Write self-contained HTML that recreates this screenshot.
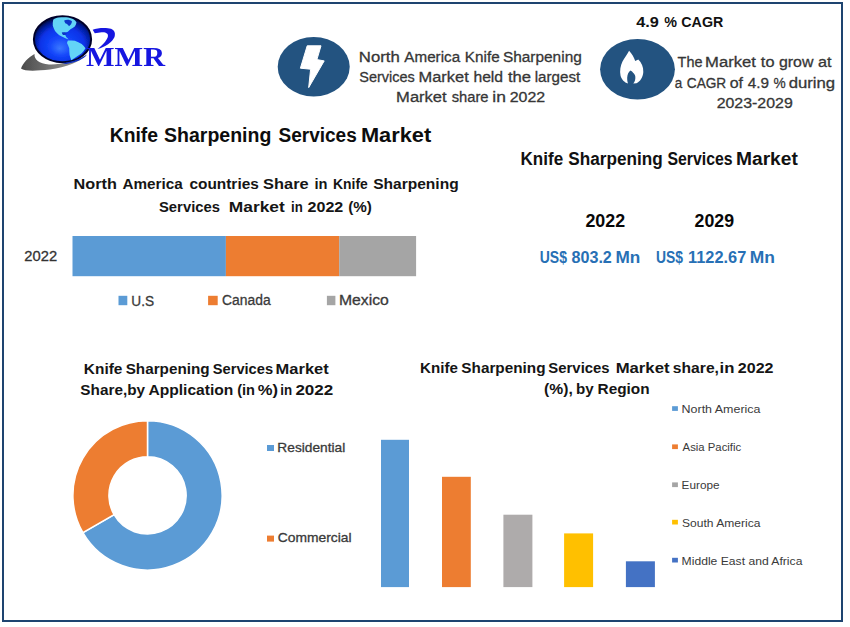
<!DOCTYPE html>
<html><head><meta charset="utf-8">
<style>
html,body{margin:0;padding:0;background:#fff;}
body{width:850px;height:627px;overflow:hidden;}
svg{display:block;}
text{font-family:"Liberation Sans",sans-serif;}
.b{font-weight:bold;}
</style></head><body>
<svg width="850" height="627" viewBox="0 0 850 627">
<defs>
<radialGradient id="gl" cx="0.52" cy="0.58" r="0.58" fx="0.45" fy="0.7">
<stop offset="0" stop-color="#3a78ff"/>
<stop offset="0.35" stop-color="#1446fa"/>
<stop offset="0.66" stop-color="#0833e8"/>
<stop offset="0.84" stop-color="#051c9c"/>
<stop offset="1" stop-color="#010630"/>
</radialGradient>
<linearGradient id="sw" x1="0" y1="0" x2="1" y2="0">
<stop offset="0" stop-color="#4a4a4a"/>
<stop offset="0.5" stop-color="#7a7a7a"/>
<stop offset="1" stop-color="#9a9a9a"/>
</linearGradient>
<filter id="soft" x="-10%" y="-10%" width="120%" height="120%"><feGaussianBlur stdDeviation="0.35"/></filter>
</defs>
<rect x="0" y="0" width="850" height="627" fill="#fff"/>
<!-- frame -->
<rect x="3" y="3" width="839" height="618" fill="none" stroke="#1e4470" stroke-width="2"/>

<!-- logo -->
<g filter="url(#soft)">
<path d="M21,68.5 C23,63 28,57.5 34.5,54 C34,59.5 39,63.5 49,64.5 C61,65 76,61 87,54.5 C80,62 66,67.5 50,69.5 C36,71 25,71.5 21,68.5 Z" fill="url(#sw)"/>
<ellipse cx="62.5" cy="39.3" rx="28.6" ry="23" fill="url(#gl)" stroke="#01062a" stroke-width="2"/>
<path d="M53.2,19.7 C55,18.5 56.5,17.9 58.4,17.6 C61,17.2 63.5,17.1 66.2,17.2 C69,17.6 71.2,18.2 73,18.9 C74.5,19.9 75.8,21 76.5,22.3 C76.3,24 75.7,25.4 74.8,26.6 C73.5,27.6 72,28.4 70.5,29.2 C69.5,30 68.7,30.9 67.9,31.8 C66.8,32.2 65.6,32.4 64.4,32.7 C64.8,34 65.5,35.6 66.2,37 C67,37.9 67.9,38.8 68.7,39.6 C67.2,39 65.8,38.4 64.4,37.8 C62.7,37 61,36.1 59.3,35.2 C57.8,33.8 56.3,32.4 55,30.9 C54.1,29.2 53.3,27.5 52.8,25.8 C52.6,23.7 52.8,21.6 53.2,19.7 Z" fill="#64d4f7"/>
<path d="M67.9,40.4 C70.2,40.4 72.5,40.5 74.8,40.8 C77.2,41.7 79.5,42.7 81.7,43.9 C83.2,45.3 84.4,46.7 85.5,48.2 C84.3,50 83,51.7 81.7,53.3 C80,54.5 78.3,55.7 76.5,56.8 C74.8,58 73,59.1 71.3,60.2 C70.6,58.5 70.1,56.7 69.6,55 C69.4,52.7 69.3,50.5 69.2,48.2 C68.6,46.5 67.8,44.7 67,43 C67.2,42.1 67.5,41.2 67.9,40.4 Z" fill="#64d4f7"/>
<path d="M64.2,20.6 C66.5,19.4 70,19.6 72,21.4 C71.8,23.2 70.6,25 69,26.2 C68.2,24.8 67,23.6 65.6,23.4 C64.8,22.6 64.3,21.6 64.2,20.6 Z M61.8,32.6 C63.5,32 65.8,32.2 66.6,33.4 C66.2,34.6 64.6,35.3 63,35 C62.3,34.3 61.9,33.5 61.8,32.6 Z" fill="#0d34c8"/>
<path d="M62,63 C72,62.5 80,59 87,54.5 C84,59 76,62.5 66,64 Z" fill="#0c2fc8"/>
<path d="M92.7,29.8 C97,28 106,27.5 111,28.8 C115,30.2 115.5,34 114.5,37 C112.5,42 105,47 97.5,49.1 C102,45.5 106.5,41 107.8,37 C108.8,33.5 106,32 102,32.2 C99,32.4 97,32.8 94.8,33.2 Z" fill="#1414e0"/>
<text x="86" y="66" font-weight="bold" font-size="26.7" fill="#1414e0" textLength="79" lengthAdjust="spacingAndGlyphs" style="font-family:'Liberation Serif',serif">MMR</text>

</g>
<!-- lightning -->
<ellipse cx="313.7" cy="66.8" rx="36" ry="29.7" fill="#235380"/>
<path d="M307.2,45.8 L321,45.8 L316.9,59.6 L324.2,60.9 L308.7,87.6 L310.6,69.2 L300.4,68.2 Z" fill="#fff" stroke="#fff" stroke-width="1" stroke-linejoin="round"/>

<!-- flame -->
<ellipse cx="637.5" cy="69.3" rx="37.4" ry="30.3" fill="#235380"/>
<path d="M629.1,50.7 C632,54 634.2,57.5 635.2,61 C636.2,60.5 637.3,60 638.3,59.5 C641.5,62.5 643.5,67 643.3,72 C643,77.5 640,81.5 636.5,83.3 L633.3,83.5 C635,81.5 635.6,79 635.3,76.5 C635.1,75.2 634.9,74.6 634.5,74.4 C634.2,73.6 633.6,73.2 633.3,72.9 C632.6,71.9 631.6,71.1 630.5,70.6 C628.5,72 627.5,74.5 627.2,77.5 C627.1,80 627.5,82 628,83.5 C624.5,82.5 621.5,79.5 620.5,75.5 C619.5,71 620.5,65.5 622.5,61.5 C624.5,57.5 627.5,54 629.1,50.7 Z" fill="#fff"/>



<!-- stacked bar -->
<rect x="72.5" y="236" width="153.4" height="40.2" fill="#5b9bd5"/>
<rect x="225.9" y="236" width="113.3" height="40.2" fill="#ed7d31"/>
<rect x="339.2" y="236" width="76.9" height="40.2" fill="#a5a5a5"/>
<rect x="118.5" y="295.8" width="8.8" height="9.4" fill="#5b9bd5"/>
<rect x="208.1" y="295.8" width="9.6" height="9.4" fill="#ed7d31"/>
<rect x="326.9" y="295.8" width="8.5" height="9.4" fill="#a5a5a5"/>

<!-- donut -->
<g transform="translate(147.5,495.4)">
<path d="M0,-74.6 A74.6,74.6 0 1 1 -64.6,37.3 L-33.4,19.3 A38.6,38.6 0 1 0 0,-38.6 Z" fill="#5b9bd5" stroke="#fff" stroke-width="1.5"/>
<path d="M-64.6,37.3 A74.6,74.6 0 0 1 0,-74.6 L0,-38.6 A38.6,38.6 0 0 0 -33.4,19.3 Z" fill="#ed7d31" stroke="#fff" stroke-width="1.5"/>
</g>
<rect x="267" y="445" width="7" height="6" fill="#5b9bd5"/>
<rect x="267" y="535.6" width="7" height="6" fill="#ed7d31"/>

<!-- bars -->
<rect x="381" y="439.8" width="28" height="147.3" fill="#5b9bd5"/>
<rect x="442" y="476.8" width="28.8" height="110.3" fill="#ed7d31"/>
<rect x="503.4" y="514.7" width="29" height="72.4" fill="#aeabab"/>
<rect x="564.1" y="533.4" width="29" height="53.7" fill="#ffc000"/>
<rect x="625.9" y="561.3" width="29" height="25.8" fill="#4472c4"/>

<rect x="672.1" y="406.2" width="5.8" height="4.7" fill="#5b9bd5"/>
<rect x="672.1" y="444.4" width="5.8" height="4.7" fill="#ed7d31"/>
<rect x="672.1" y="482.4" width="5.8" height="4.7" fill="#a5a5a5"/>
<rect x="672.1" y="519.8" width="5.8" height="4.7" fill="#ffc000"/>
<rect x="672.1" y="557.8" width="5.8" height="4.7" fill="#4472c4"/>
<text x="358.83" y="61.6" font-size="15.4" stroke="#363636" stroke-width="0.3" fill="#363636" textLength="40.96" lengthAdjust="spacingAndGlyphs">North</text>
<text x="404.37" y="61.6" font-size="15.4" stroke="#363636" stroke-width="0.3" fill="#363636" textLength="55.73" lengthAdjust="spacingAndGlyphs">America</text>
<text x="464.85" y="61.6" font-size="15.4" stroke="#363636" stroke-width="0.3" fill="#363636" textLength="34.83" lengthAdjust="spacingAndGlyphs">Knife</text>
<text x="502.90" y="61.6" font-size="15.4" stroke="#363636" stroke-width="0.3" fill="#363636" textLength="78.90" lengthAdjust="spacingAndGlyphs">Sharpening</text>
<text x="359.24" y="82.0" font-size="15.4" stroke="#363636" stroke-width="0.3" fill="#363636" textLength="55.48" lengthAdjust="spacingAndGlyphs">Services</text>
<text x="418.55" y="82.0" font-size="15.4" stroke="#363636" stroke-width="0.3" fill="#363636" textLength="50.17" lengthAdjust="spacingAndGlyphs">Market</text>
<text x="473.41" y="82.0" font-size="15.4" stroke="#363636" stroke-width="0.3" fill="#363636" textLength="29.70" lengthAdjust="spacingAndGlyphs">held</text>
<text x="507.95" y="82.0" font-size="15.4" stroke="#363636" stroke-width="0.3" fill="#363636" textLength="23.19" lengthAdjust="spacingAndGlyphs">the</text>
<text x="534.68" y="82.0" font-size="15.4" stroke="#363636" stroke-width="0.3" fill="#363636" textLength="45.53" lengthAdjust="spacingAndGlyphs">largest</text>
<text x="396.14" y="102.4" font-size="15.4" stroke="#363636" stroke-width="0.3" fill="#363636" textLength="50.48" lengthAdjust="spacingAndGlyphs">Market</text>
<text x="451.69" y="102.4" font-size="15.4" stroke="#363636" stroke-width="0.3" fill="#363636" textLength="36.87" lengthAdjust="spacingAndGlyphs">share</text>
<text x="492.33" y="102.4" font-size="15.4" stroke="#363636" stroke-width="0.3" fill="#363636" textLength="13.60" lengthAdjust="spacingAndGlyphs">in</text>
<text x="509.70" y="102.4" font-size="15.4" stroke="#363636" stroke-width="0.3" fill="#363636" textLength="35.51" lengthAdjust="spacingAndGlyphs">2022</text>
<text x="677.58" y="67.4" font-size="15.4" stroke="#363636" stroke-width="0.3" fill="#363636" textLength="24.87" lengthAdjust="spacingAndGlyphs">The</text>
<text x="705.14" y="67.4" font-size="15.4" stroke="#363636" stroke-width="0.3" fill="#363636" textLength="50.79" lengthAdjust="spacingAndGlyphs">Market</text>
<text x="760.85" y="67.4" font-size="15.4" stroke="#363636" stroke-width="0.3" fill="#363636" textLength="13.63" lengthAdjust="spacingAndGlyphs">to</text>
<text x="778.93" y="67.4" font-size="15.4" stroke="#363636" stroke-width="0.3" fill="#363636" textLength="34.53" lengthAdjust="spacingAndGlyphs">grow</text>
<text x="818.11" y="67.4" font-size="15.4" stroke="#363636" stroke-width="0.3" fill="#363636" textLength="13.51" lengthAdjust="spacingAndGlyphs">at</text>
<text x="674.73" y="87.6" font-size="15.4" stroke="#363636" stroke-width="0.3" fill="#363636" textLength="7.47" lengthAdjust="spacingAndGlyphs">a</text>
<text x="686.81" y="87.6" font-size="15.4" stroke="#363636" stroke-width="0.3" fill="#363636" textLength="39.43" lengthAdjust="spacingAndGlyphs">CAGR</text>
<text x="729.73" y="87.6" font-size="15.4" stroke="#363636" stroke-width="0.3" fill="#363636" textLength="13.35" lengthAdjust="spacingAndGlyphs">of</text>
<text x="747.65" y="87.6" font-size="15.4" stroke="#363636" stroke-width="0.3" fill="#363636" textLength="21.28" lengthAdjust="spacingAndGlyphs">4.9</text>
<text x="773.61" y="87.6" font-size="15.4" stroke="#363636" stroke-width="0.3" fill="#363636" textLength="12.18" lengthAdjust="spacingAndGlyphs">%</text>
<text x="788.70" y="87.6" font-size="15.4" stroke="#363636" stroke-width="0.3" fill="#363636" textLength="46.48" lengthAdjust="spacingAndGlyphs">during</text>
<text x="716.70" y="108.1" font-size="15.4" stroke="#363636" stroke-width="0.3" fill="#363636" textLength="76.05" lengthAdjust="spacingAndGlyphs">2023-2029</text>
<text x="636.15" y="26.9" font-size="15.4" font-weight="bold" fill="#111" textLength="22.65" lengthAdjust="spacingAndGlyphs">4.9</text>
<text x="664.24" y="26.9" font-size="15.4" font-weight="bold" fill="#111" textLength="12.73" lengthAdjust="spacingAndGlyphs">%</text>
<text x="681.32" y="26.9" font-size="15.4" font-weight="bold" fill="#111" textLength="41.98" lengthAdjust="spacingAndGlyphs">CAGR</text>
<text x="109.70" y="141.7" font-size="20.3" font-weight="bold" fill="#0d0d0d" textLength="48.36" lengthAdjust="spacingAndGlyphs">Knife</text>
<text x="164.04" y="141.7" font-size="20.3" font-weight="bold" fill="#0d0d0d" textLength="107.27" lengthAdjust="spacingAndGlyphs">Sharpening</text>
<text x="278.45" y="141.7" font-size="20.3" font-weight="bold" fill="#0d0d0d" textLength="78.33" lengthAdjust="spacingAndGlyphs">Services</text>
<text x="360.94" y="141.7" font-size="20.3" font-weight="bold" fill="#0d0d0d" textLength="70.33" lengthAdjust="spacingAndGlyphs">Market</text>
<text x="73.61" y="189.0" font-size="15.4" font-weight="bold" fill="#151515" textLength="43.29" lengthAdjust="spacingAndGlyphs">North</text>
<text x="122.52" y="189.0" font-size="15.4" font-weight="bold" fill="#151515" textLength="60.28" lengthAdjust="spacingAndGlyphs">America</text>
<text x="189.40" y="189.0" font-size="15.4" font-weight="bold" fill="#151515" textLength="69.44" lengthAdjust="spacingAndGlyphs">countries</text>
<text x="263.13" y="189.0" font-size="15.4" font-weight="bold" fill="#151515" textLength="45.53" lengthAdjust="spacingAndGlyphs">Share</text>
<text x="314.48" y="189.0" font-size="15.4" font-weight="bold" fill="#151515" textLength="13.03" lengthAdjust="spacingAndGlyphs">in</text>
<text x="333.07" y="189.0" font-size="15.4" font-weight="bold" fill="#151515" textLength="34.81" lengthAdjust="spacingAndGlyphs">Knife</text>
<text x="373.15" y="189.0" font-size="15.4" font-weight="bold" fill="#151515" textLength="85.49" lengthAdjust="spacingAndGlyphs">Sharpening</text>
<text x="158.97" y="211.7" font-size="15.4" font-weight="bold" fill="#151515" textLength="61.04" lengthAdjust="spacingAndGlyphs">Services</text>
<text x="228.84" y="211.7" font-size="15.4" font-weight="bold" fill="#151515" textLength="55.97" lengthAdjust="spacingAndGlyphs">Market</text>
<text x="291.08" y="211.7" font-size="15.4" font-weight="bold" fill="#151515" textLength="11.74" lengthAdjust="spacingAndGlyphs">in</text>
<text x="307.54" y="211.7" font-size="15.4" font-weight="bold" fill="#151515" textLength="35.80" lengthAdjust="spacingAndGlyphs">2022</text>
<text x="348.14" y="211.7" font-size="15.4" font-weight="bold" fill="#151515" textLength="23.72" lengthAdjust="spacingAndGlyphs">(%)</text>
<text x="520.56" y="165.0" font-size="18.0" font-weight="bold" fill="#111" textLength="42.62" lengthAdjust="spacingAndGlyphs">Knife</text>
<text x="568.31" y="165.0" font-size="18.0" font-weight="bold" fill="#111" textLength="94.34" lengthAdjust="spacingAndGlyphs">Sharpening</text>
<text x="667.44" y="165.0" font-size="18.0" font-weight="bold" fill="#111" textLength="65.21" lengthAdjust="spacingAndGlyphs">Services</text>
<text x="736.02" y="165.0" font-size="18.0" font-weight="bold" fill="#111" textLength="61.82" lengthAdjust="spacingAndGlyphs">Market</text>
<text x="585.38" y="226.9" font-size="17.8" font-weight="bold" fill="#080808" textLength="39.74" lengthAdjust="spacingAndGlyphs">2022</text>
<text x="694.58" y="226.9" font-size="17.8" font-weight="bold" fill="#080808" textLength="39.47" lengthAdjust="spacingAndGlyphs">2029</text>
<text x="83.87" y="373.6" font-size="15.2" font-weight="bold" fill="#151515" textLength="38.56" lengthAdjust="spacingAndGlyphs">Knife</text>
<text x="125.66" y="373.6" font-size="15.2" font-weight="bold" fill="#151515" textLength="83.96" lengthAdjust="spacingAndGlyphs">Sharpening</text>
<text x="212.78" y="373.6" font-size="15.2" font-weight="bold" fill="#151515" textLength="60.32" lengthAdjust="spacingAndGlyphs">Services</text>
<text x="275.60" y="373.6" font-size="15.2" font-weight="bold" fill="#151515" textLength="53.10" lengthAdjust="spacingAndGlyphs">Market</text>
<text x="80.36" y="395.0" font-size="15.2" font-weight="bold" fill="#151515" textLength="64.72" lengthAdjust="spacingAndGlyphs">Share,by</text>
<text x="148.41" y="395.0" font-size="15.2" font-weight="bold" fill="#151515" textLength="84.96" lengthAdjust="spacingAndGlyphs">Application</text>
<text x="237.17" y="395.0" font-size="15.2" font-weight="bold" fill="#151515" textLength="17.83" lengthAdjust="spacingAndGlyphs">(in</text>
<text x="257.69" y="395.0" font-size="15.2" font-weight="bold" fill="#151515" textLength="20.24" lengthAdjust="spacingAndGlyphs">%)</text>
<text x="280.27" y="395.0" font-size="15.2" font-weight="bold" fill="#151515" textLength="11.86" lengthAdjust="spacingAndGlyphs">in</text>
<text x="295.41" y="395.0" font-size="15.2" font-weight="bold" fill="#151515" textLength="37.87" lengthAdjust="spacingAndGlyphs">2022</text>
<text x="420.09" y="373.0" font-size="15.3" font-weight="bold" fill="#151515" textLength="37.83" lengthAdjust="spacingAndGlyphs">Knife</text>
<text x="461.36" y="373.0" font-size="15.3" font-weight="bold" fill="#151515" textLength="84.16" lengthAdjust="spacingAndGlyphs">Sharpening</text>
<text x="548.37" y="373.0" font-size="15.3" font-weight="bold" fill="#151515" textLength="61.24" lengthAdjust="spacingAndGlyphs">Services</text>
<text x="615.68" y="373.0" font-size="15.3" font-weight="bold" fill="#151515" textLength="53.82" lengthAdjust="spacingAndGlyphs">Market</text>
<text x="672.85" y="373.0" font-size="15.3" font-weight="bold" fill="#151515" textLength="46.10" lengthAdjust="spacingAndGlyphs">share,</text>
<text x="719.53" y="373.0" font-size="15.3" font-weight="bold" fill="#151515" textLength="14.91" lengthAdjust="spacingAndGlyphs">in</text>
<text x="737.84" y="373.0" font-size="15.3" font-weight="bold" fill="#151515" textLength="35.70" lengthAdjust="spacingAndGlyphs">2022</text>
<text x="544.12" y="393.6" font-size="15.3" font-weight="bold" fill="#151515" textLength="28.73" lengthAdjust="spacingAndGlyphs">(%),</text>
<text x="576.00" y="393.6" font-size="15.3" font-weight="bold" fill="#151515" textLength="17.68" lengthAdjust="spacingAndGlyphs">by</text>
<text x="597.57" y="393.6" font-size="15.3" font-weight="bold" fill="#151515" textLength="52.08" lengthAdjust="spacingAndGlyphs">Region</text>
<text x="539.76" y="262.5" font-size="15.6" font-weight="bold" fill="#2770b5" textLength="27.24" lengthAdjust="spacingAndGlyphs">US$</text>
<text x="571.49" y="262.5" font-size="15.6" font-weight="bold" fill="#2770b5" textLength="40.36" lengthAdjust="spacingAndGlyphs">803.2</text>
<text x="615.45" y="262.5" font-size="15.6" font-weight="bold" fill="#2770b5" textLength="24.82" lengthAdjust="spacingAndGlyphs">Mn</text>
<text x="656.07" y="262.5" font-size="15.6" font-weight="bold" fill="#2770b5" textLength="27.03" lengthAdjust="spacingAndGlyphs">US$</text>
<text x="687.97" y="262.5" font-size="15.6" font-weight="bold" fill="#2770b5" textLength="58.35" lengthAdjust="spacingAndGlyphs">1122.67</text>
<text x="749.83" y="262.5" font-size="15.6" font-weight="bold" fill="#2770b5" textLength="25.15" lengthAdjust="spacingAndGlyphs">Mn</text>
<text x="24.36" y="260.9" font-size="14.9" stroke="#333" stroke-width="0.3" fill="#333" textLength="32.78" lengthAdjust="spacingAndGlyphs">2022</text>
<text x="131.35" y="305.5" font-size="14.0" stroke="#3a3a3a" stroke-width="0.3" fill="#3a3a3a" textLength="22.78" lengthAdjust="spacingAndGlyphs">U.S</text>
<text x="222.10" y="305.4" font-size="14.0" stroke="#3a3a3a" stroke-width="0.3" fill="#3a3a3a" textLength="48.50" lengthAdjust="spacingAndGlyphs">Canada</text>
<text x="339.01" y="305.4" font-size="14.0" stroke="#3a3a3a" stroke-width="0.3" fill="#3a3a3a" textLength="49.85" lengthAdjust="spacingAndGlyphs">Mexico</text>
<text x="277.38" y="451.5" font-size="13.0" stroke="#3a3a3a" stroke-width="0.3" fill="#3a3a3a" textLength="67.84" lengthAdjust="spacingAndGlyphs">Residential</text>
<text x="277.80" y="542.2" font-size="13.0" stroke="#3a3a3a" stroke-width="0.3" fill="#3a3a3a" textLength="73.83" lengthAdjust="spacingAndGlyphs">Commercial</text>
<text x="681.58" y="412.9" font-size="11.2" fill="#3a3a3a" textLength="78.92" lengthAdjust="spacingAndGlyphs">North America</text>
<text x="682.58" y="450.5" font-size="11.2" fill="#3a3a3a" textLength="58.62" lengthAdjust="spacingAndGlyphs">Asia Pacific</text>
<text x="681.64" y="489.3" font-size="11.2" fill="#3a3a3a" textLength="37.89" lengthAdjust="spacingAndGlyphs">Europe</text>
<text x="682.05" y="526.6" font-size="11.2" fill="#3a3a3a" textLength="78.35" lengthAdjust="spacingAndGlyphs">South America</text>
<text x="681.60" y="564.5" font-size="11.2" fill="#3a3a3a" textLength="120.80" lengthAdjust="spacingAndGlyphs">Middle East and Africa</text>
</svg>
</body></html>
